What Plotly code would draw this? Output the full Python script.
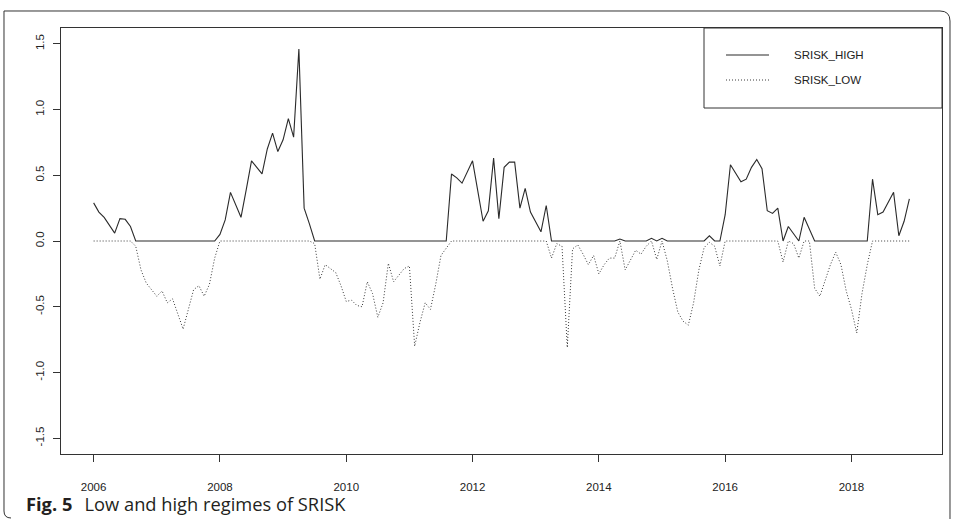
import numpy as np
import plotly.graph_objects as go

# ---------------- data (monthly, Jan 2006 .. Dec 2018) ----------------
start_year = 2006
srisk_high = [
    0.29, 0.22, 0.18, 0.12, 0.06, 0.17, 0.165, 0.11, 0, 0, 0, 0,            # 2006
    0, 0, 0, 0, 0, 0, 0, 0, 0, 0, 0, 0,                                     # 2007
    0.05, 0.16, 0.37, 0.27, 0.18, 0.39, 0.61, 0.56, 0.51, 0.70, 0.82, 0.68, # 2008
    0.77, 0.93, 0.79, 1.46, 0.25, 0.13, 0, 0, 0, 0, 0, 0,                   # 2009
    0, 0, 0, 0, 0, 0, 0, 0, 0, 0, 0, 0,                                     # 2010
    0, 0, 0, 0, 0, 0, 0, 0, 0.51, 0.48, 0.44, 0.52,                         # 2011
    0.61, 0.38, 0.15, 0.23, 0.63, 0.17, 0.56, 0.60, 0.60, 0.25, 0.40, 0.22, # 2012
    0.15, 0.07, 0.27, 0, 0, 0, 0, 0, 0, 0, 0, 0,                            # 2013
    0, 0, 0, 0, 0.015, 0, 0, 0, 0, 0, 0.02, 0,                              # 2014
    0.02, 0, 0, 0, 0, 0, 0, 0, 0, 0.04, 0, 0,                               # 2015
    0.20, 0.58, 0.51, 0.45, 0.47, 0.56, 0.62, 0.55, 0.23, 0.21, 0.25, 0,    # 2016
    0.11, 0.05, 0, 0.18, 0.09, 0, 0, 0, 0, 0, 0, 0,                         # 2017
    0, 0, 0, 0, 0.47, 0.20, 0.22, 0.30, 0.37, 0.04, 0.15, 0.32,             # 2018
]
srisk_low = [
    0, 0, 0, 0, 0, 0, 0, 0, -0.04, -0.22, -0.32, -0.37,                     # 2006
    -0.42, -0.38, -0.47, -0.44, -0.55, -0.67, -0.52, -0.37, -0.34, -0.42, -0.33, -0.13,  # 2007
    0, 0, 0, 0, 0, 0, 0, 0, 0, 0, 0, 0,                                     # 2008
    0, 0, 0, 0, 0, 0, -0.02, -0.29, -0.18, -0.21, -0.24, -0.34,             # 2009
    -0.46, -0.45, -0.49, -0.50, -0.31, -0.40, -0.58, -0.47, -0.17, -0.31, -0.26, -0.21,  # 2010
    -0.19, -0.80, -0.62, -0.47, -0.52, -0.33, -0.11, -0.05, 0, 0, 0, 0,     # 2011
    0, 0, 0, 0, 0, 0, 0, 0, 0, 0, 0, 0,                                     # 2012
    0, 0, 0, -0.13, -0.02, -0.04, -0.81, -0.06, -0.03, -0.10, -0.18, -0.11, # 2013
    -0.25, -0.18, -0.13, -0.13, 0, -0.22, -0.14, -0.07, -0.10, -0.04, 0, -0.14,  # 2014
    0, -0.15, -0.36, -0.54, -0.61, -0.64, -0.47, -0.22, -0.05, -0.01, -0.04, -0.19,  # 2015
    0, 0, 0, 0, 0, 0, 0, 0, 0, 0, 0, -0.16,                                 # 2016
    0, -0.02, -0.13, 0, 0, -0.36, -0.42, -0.30, -0.18, -0.085, -0.18, -0.38,  # 2017
    -0.52, -0.70, -0.40, -0.18, 0, 0, 0, 0, 0, 0, 0, 0,                     # 2018
]
x_tick_vals = [2006, 2008, 2010, 2012, 2014, 2016, 2018]
x_tick_labels = ["2006", "2008", "2010", "2012", "2014", "2016", "2018"]
y_tick_vals = [-1.5, -1.0, -0.5, 0.0, 0.5, 1.0, 1.5]
y_tick_labels = ["-1.5", "-1.0", "-0.5", "0.0", "0.5", "1.0", "1.5"]
series_names = ["SRISK_HIGH", "SRISK_LOW"]
caption_bold = "Fig. 5"
caption_text = "Low and high regimes of SRISK"

# ---------------- layout geometry ----------------
W, H = 955, 519
L, R, T, B = 61, 942, 28, 454


def px(x):
    return (x - L) / (R - L)


def py(y):
    return (B - y) / (B - T)


t = start_year + np.arange(len(srisk_high)) / 12.0
span = t[-1] - t[0]
x_range = [t[0] - 0.04 * span, t[-1] + 0.04 * span]
y_range = [-1.5 - 0.04 * 3.0, 1.5 + 0.04 * 3.0]

AX_FONT = dict(family="Liberation Sans, Arial, sans-serif", size=11.5, color="#222")
LINE_COL = "#2a2a2a"
LOW_COL = "#3a3a3a"
LOW_DASH = "1px,2px"

fig = go.Figure()
fig.add_trace(go.Scatter(x=t, y=srisk_high, mode="lines", name=series_names[0],
                         line=dict(color=LINE_COL, width=1.1), showlegend=False))
fig.add_trace(go.Scatter(x=t, y=srisk_low, mode="lines", name=series_names[1],
                         line=dict(color=LOW_COL, width=1, dash=LOW_DASH), showlegend=False))

shapes = []
# legend box
shapes.append(dict(type="rect", xref="paper", yref="paper",
                   x0=px(704), x1=px(942), y0=py(108), y1=py(28),
                   line=dict(color="#333", width=1), fillcolor="rgba(0,0,0,0)"))
# legend samples
shapes.append(dict(type="line", xref="paper", yref="paper",
                   x0=px(726), x1=px(769), y0=py(55), y1=py(55),
                   line=dict(color=LINE_COL, width=1.1)))
shapes.append(dict(type="line", xref="paper", yref="paper",
                   x0=px(726), x1=px(769), y0=py(80), y1=py(80),
                   line=dict(color=LOW_COL, width=1, dash=LOW_DASH)))


def P(x, y):
    return f"{px(x):.5f},{py(y):.5f}"


# outer figure frame (rounded corners)
frame_path = f"M {P(4, 511)} L {P(4, 11)} L {P(940, 11)} Q {P(950, 11)} {P(950, 21)} L {P(950, 519)}"
shapes.append(dict(type="path", xref="paper", yref="paper", path=frame_path,
                   line=dict(color="#333", width=1)))
shapes.append(dict(type="path", xref="paper", yref="paper",
                   path=f"M {P(4, 511)} Q {P(4, 518)} {P(11, 518)}",
                   line=dict(color="#333", width=1)))

annotations = []
for i, name in enumerate(series_names):
    annotations.append(dict(xref="paper", yref="paper", x=px(792), y=py(55 + 25 * i),
                            xanchor="left", yanchor="middle", showarrow=False,
                            text=name, font=AX_FONT))
annotations.append(dict(xref="paper", yref="paper", x=px(24), y=py(504),
                        xanchor="left", yanchor="middle", showarrow=False,
                        text=f"<b>{caption_bold}</b>\u2002\u2009{caption_text}",
                        font=dict(family="Open Sans, Noto Sans, sans-serif", size=18.3, color="#231f20")))

fig.update_layout(
    width=W, height=H,
    margin=dict(l=L, r=W - R, t=T, b=H - B, pad=0, autoexpand=False),
    paper_bgcolor="white", plot_bgcolor="white",
    shapes=shapes, annotations=annotations,
    showlegend=False,
)
fig.update_xaxes(range=x_range, tickmode="array", tickvals=x_tick_vals, ticktext=x_tick_labels,
                 showgrid=False, zeroline=False, showline=True, mirror=True, automargin=False,
                 linecolor="#333", linewidth=1, ticks="outside", ticklen=7,
                 tickcolor="#333", tickwidth=1, tickfont=AX_FONT, ticklabelstandoff=15)
fig.update_yaxes(range=y_range, tickmode="array", tickvals=y_tick_vals, ticktext=y_tick_labels,
                 showgrid=False, zeroline=False, showline=True, mirror=True, automargin=False,
                 linecolor="#333", linewidth=1, ticks="outside", ticklen=7,
                 tickcolor="#333", tickwidth=1, tickfont=AX_FONT, tickangle=-90,
                 ticklabelstandoff=4)

fig.write_html("out.html", config={"displayModeBar": False},
               post_script="document.body.style.margin='0';")
